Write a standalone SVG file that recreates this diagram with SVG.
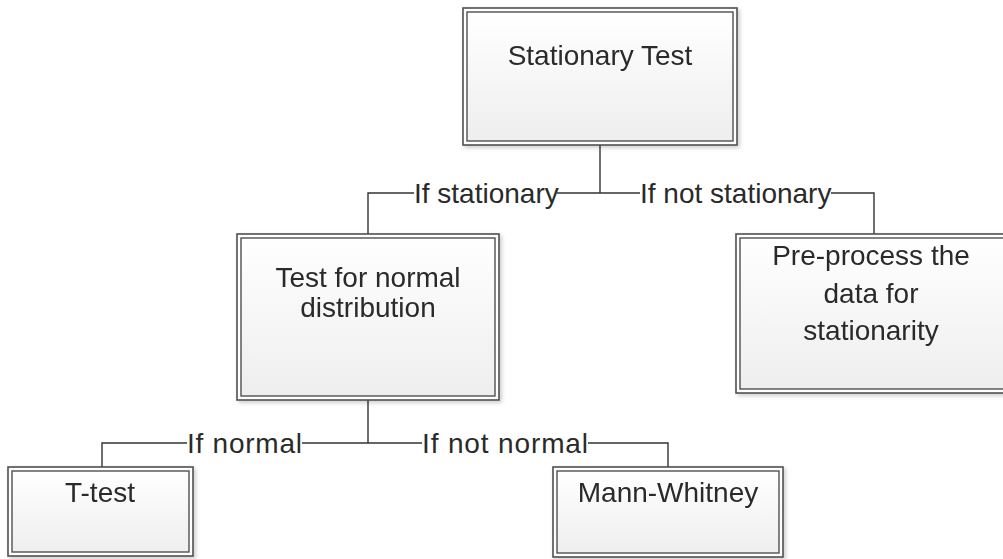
<svg xmlns="http://www.w3.org/2000/svg" width="1003" height="559" viewBox="0 0 1003 559">
<defs>
<linearGradient id="g" x1="0" y1="0" x2="0" y2="1">
<stop offset="0" stop-color="#ffffff"/>
<stop offset="1" stop-color="#eeeeee"/>
</linearGradient>
<filter id="sh" x="-5%" y="-5%" width="115%" height="115%">
<feGaussianBlur in="SourceAlpha" stdDeviation="2"/>
<feOffset dx="2" dy="2"/>
<feComponentTransfer><feFuncA type="linear" slope="0.2"/></feComponentTransfer>
<feMerge><feMergeNode/><feMergeNode in="SourceGraphic"/></feMerge>
</filter>
</defs>
<style>
.outer{fill:#ffffff;stroke:#505050;stroke-width:1.6}
.inner{fill:url(#g);stroke:#505050;stroke-width:1.4}
.t{font-family:"Liberation Sans",Arial,sans-serif;font-size:28px;fill:#2a2a2a;text-anchor:middle}
.l{font-family:"Liberation Sans",Arial,sans-serif;font-size:28px;fill:#2a2a2a}
.c{fill:none;stroke:#333;stroke-width:1.4}
</style>
<rect width="1003" height="559" fill="#ffffff"/>
<g id="connectors">
<path class="c" d="M600,145 V193 H557 M600,193 H640"/>
<path class="c" d="M368,234 V193 H414"/>
<path class="c" d="M874,234 V193 H831"/>
<path class="c" d="M368,400 V443 H302 M368,443 H422"/>
<path class="c" d="M102,467 V443 H187"/>
<path class="c" d="M668,467 V443 H588"/>
<text class="l" x="414" y="203">If stationary</text>
<text class="l" x="640" y="203">If not stationary</text>
<text class="l" x="187" y="453" textLength="115">If normal</text>
<text class="l" x="422" y="453" textLength="166">If not normal</text>
</g>
<g id="n_stationary" filter="url(#sh)">
<rect class="outer" x="463" y="8" width="274" height="137"/>
<rect class="inner" x="467" y="12" width="266" height="129"/>
<text class="t" x="600" y="65">Stationary Test</text>
</g>
<g id="n_normal" filter="url(#sh)">
<rect class="outer" x="237" y="234" width="262" height="166"/>
<rect class="inner" x="241" y="238" width="254" height="158"/>
<text class="t" x="368" y="287">Test for normal</text>
<text class="t" x="368" y="317">distribution</text>
</g>
<g id="n_preprocess" filter="url(#sh)">
<rect class="outer" x="736" y="234" width="274" height="159"/>
<rect class="inner" x="740" y="238" width="266" height="151"/>
<text class="t" x="871" y="265">Pre-process the</text>
<text class="t" x="871" y="303">data for</text>
<text class="t" x="871" y="340">stationarity</text>
</g>
<g id="n_ttest" filter="url(#sh)">
<rect class="outer" x="8" y="467" width="185" height="89"/>
<rect class="inner" x="12" y="471" width="177" height="81"/>
<text class="t" x="100" y="502">T-test</text>
</g>
<g id="n_mann" filter="url(#sh)">
<rect class="outer" x="553" y="467" width="230" height="90"/>
<rect class="inner" x="557" y="471" width="222" height="82"/>
<text class="t" x="668" y="502">Mann-Whitney</text>
</g>
</svg>
